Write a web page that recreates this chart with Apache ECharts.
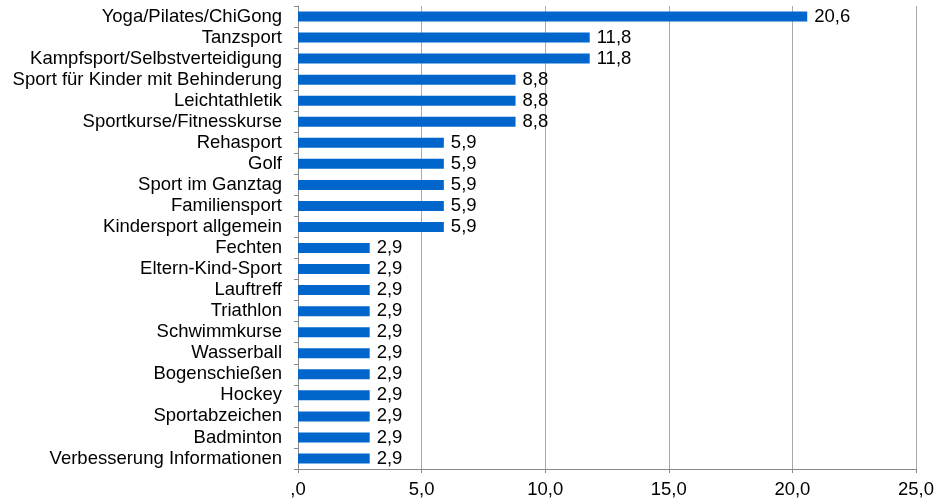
<!DOCTYPE html>
<html><head><meta charset="utf-8">
<script src="https://cdn.jsdelivr.net/npm/echarts@6/dist/echarts.min.js"></script>
<style>html,body{margin:0;padding:0;background:#fff}#c{width:940px;height:504px}</style>
</head><body><div id="c"></div>
<script>
const categories = ["Yoga/Pilates/ChiGong","Tanzsport","Kampfsport/Selbstverteidigung","Sport für Kinder mit Behinderung","Leichtathletik","Sportkurse/Fitnesskurse","Rehasport","Golf","Sport im Ganztag","Familiensport","Kindersport allgemein","Fechten","Eltern-Kind-Sport","Lauftreff","Triathlon","Schwimmkurse","Wasserball","Bogenschießen","Hockey","Sportabzeichen","Badminton","Verbesserung Informationen"];
const values = [20.6,11.8,11.8,8.8,8.8,8.8,5.9,5.9,5.9,5.9,5.9,2.9,2.9,2.9,2.9,2.9,2.9,2.9,2.9,2.9,2.9,2.9];
const xTicks = [0,5,10,15,20,25];
function fmt(v){ return v===0 ? ",0" : v.toFixed(1).replace('.',','); }
const chart = echarts.init(document.getElementById('c'));
chart.setOption({
  animation:false,
  backgroundColor:'#fff',
  textStyle:{fontFamily:'Liberation Sans, Arial, sans-serif'},
  grid:{left:298,right:24,top:6,bottom:35,containLabel:false},
  xAxis:{type:'value',min:xTicks[0],max:xTicks[xTicks.length-1],interval:5,
    axisLine:{show:true,lineStyle:{color:'#888',width:1}},
    axisTick:{show:true,length:4,lineStyle:{color:'#888'}},
    splitLine:{show:true,lineStyle:{color:'#aaa',width:1}},
    axisLabel:{color:'#000',fontSize:18.5,margin:11,formatter:fmt}},
  yAxis:{type:'category',data:categories,inverse:true,
    axisLine:{show:true,lineStyle:{color:'#888',width:1}},
    axisTick:{show:true,length:4,lineStyle:{color:'#888'}},
    axisLabel:{color:'#000',fontSize:18.5,margin:16,interval:0,lineHeight:20}},
  series:[{type:'bar',data:values,barWidth:10,
    itemStyle:{color:'#0066CC'},
    label:{show:true,position:'right',distance:7,color:'#000',fontSize:18.5,formatter:p=>fmt(p.value)}}]
});
</script></body></html>
